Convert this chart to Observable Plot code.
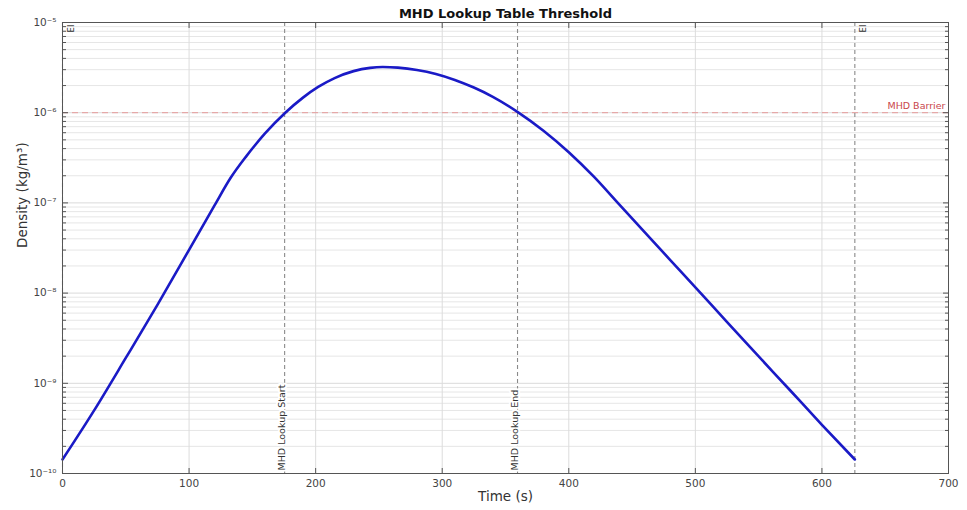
<!DOCTYPE html>
<html><head><meta charset="utf-8">
<script src="https://cdn.jsdelivr.net/npm/d3@7"></script>
<script src="https://cdn.jsdelivr.net/npm/@observablehq/plot@0.6"></script>
<style>body{margin:0;background:#fff;}</style>
</head><body><div id="chart"></div>
<script>
// Data (time in s, density in kg/m^3)
const time = [0, 25, 50, 75, 100, 120, 133, 145, 160, 176, 190, 202, 215, 230, 243, 253, 265, 280, 295, 310, 325, 340, 360, 380, 400, 420, 440, 480, 512, 544, 575, 600, 626];
const density = [1.43e-10, 5.01e-10, 1.91e-9, 7.41e-9, 3.02e-8, 9.33e-8, 1.91e-7, 3.26e-7, 5.89e-7, 1.00e-6, 1.47e-6, 1.93e-6, 2.42e-6, 2.89e-6, 3.14e-6, 3.21e-6, 3.16e-6, 2.98e-6, 2.69e-6, 2.31e-6, 1.90e-6, 1.50e-6, 1.01e-6, 6.32e-7, 3.65e-7, 1.94e-7, 9.55e-8, 2.34e-8, 7.59e-9, 2.45e-9, 8.32e-10, 3.47e-10, 1.43e-10];
const xTicks = [0, 100, 200, 300, 400, 500, 600, 700];
const yDecades = [1e-10, 1e-9, 1e-8, 1e-7, 1e-6, 1e-5];
const eventTimes = [0, 175.5, 359.5, 626];
const eventLabels = ["EI", "MHD Lookup Start", "MHD Lookup End", "EI"];
const barrier = [1e-6];
const barrierLabel = "MHD Barrier";
const title = "MHD Lookup Table Threshold";
const xLabel = "Time (s)";
const yLabel = "Density (kg/m³)";

const series = time.map((t, i) => ({t, d: density[i]}));
const yMinor = [];
yDecades.slice(0, -1).forEach(p => { for (let m = 2; m <= 9; m++) yMinor.push(p * m); });
const events = eventTimes.map((t, i) => ({t, label: eventLabels[i]}));
const topEvents = events.filter(e => e.label === "EI");
const bottomEvents = events.filter(e => e.label !== "EI");

const sup = {"-": "⁻", "0": "⁰", "1": "¹", "2": "²", "3": "³", "4": "⁴", "5": "⁵", "6": "⁶", "7": "⁷", "8": "⁸", "9": "⁹"};
const fmt = d => "10" + String(Math.round(Math.log10(d))).replace(/./g, c => sup[c]);

const chart = Plot.plot({
  width: 967, height: 510,
  marginLeft: 62, marginRight: 19, marginTop: 22, marginBottom: 37,
  style: {fontFamily: "DejaVu Sans", fontSize: "10px", color: "#444", background: "#fff"},
  x: {domain: [0, 700]},
  y: {type: "log", domain: [1e-10, 1e-5]},
  marks: [
    Plot.gridY(yMinor, {stroke: "#e6e6e6", strokeOpacity: 1}),
    Plot.gridY(yDecades, {stroke: "#dadada", strokeOpacity: 1}),
    Plot.gridX(xTicks, {stroke: "#dcdcdc", strokeOpacity: 1}),
    Plot.ruleY(barrier, {stroke: "#e59a9a", strokeDasharray: "6,4", strokeWidth: 1}),
    Plot.ruleX(eventTimes, {stroke: "#8a8a8a", strokeDasharray: "4,3", strokeWidth: 1.1}),
    Plot.line(series, {x: "t", y: "d", stroke: "#1a1ac6", strokeWidth: 2.6, curve: "monotone-x"}),
    Plot.frame({stroke: "#555"}),
    Plot.axisX(xTicks, {anchor: "bottom", tickSize: -5, tickFormat: () => "", label: null, stroke: "#555"}),
    Plot.axisX(xTicks, {anchor: "top", tickSize: -5, tickFormat: () => "", label: null, stroke: "#555"}),
    Plot.axisX(xTicks, {anchor: "bottom", tickSize: 0, tickPadding: 6, tickFormat: d => String(d), label: null, fontSize: 10.5, fill: "#444"}),
    Plot.axisY(yMinor, {anchor: "left", tickSize: -4, tickFormat: () => "", label: null, stroke: "#555"}),
    Plot.axisY(yMinor, {anchor: "right", tickSize: -4, tickFormat: () => "", label: null, stroke: "#555"}),
    Plot.axisY(yDecades, {anchor: "left", tickSize: -6, tickFormat: () => "", label: null, stroke: "#555"}),
    Plot.axisY(yDecades, {anchor: "right", tickSize: -6, tickFormat: () => "", label: null, stroke: "#555"}),
    Plot.axisY(yDecades, {anchor: "left", tickSize: 0, tickPadding: 6, tickFormat: fmt, label: null, fontSize: 10.5, fill: "#444"}),
    Plot.text(bottomEvents, {x: "t", frameAnchor: "bottom", text: "label", rotate: -90, textAnchor: "start", dy: -3, fontSize: 9.5, fill: "#333", stroke: "white", strokeWidth: 4}),
    Plot.text(topEvents, {x: "t", frameAnchor: "top", text: "label", rotate: -90, textAnchor: "end", dy: 2, dx: 5, fontSize: 8.5, fill: "#333"}),
    Plot.text(barrier, {y: d => d, frameAnchor: "right", text: () => barrierLabel, textAnchor: "end", dx: -3, dy: -7, fontSize: 9.5, fill: "#c9464b"}),
    Plot.text([title], {frameAnchor: "top", text: d => d, dy: -14, fontSize: 13, fontWeight: "bold", fill: "#111"}),
    Plot.text([xLabel], {frameAnchor: "bottom", text: d => d, dy: 27, fontSize: 13.5, fill: "#333"}),
    Plot.text([yLabel], {frameAnchor: "left", text: d => d, rotate: -90, dx: -40, fontSize: 13.5, fill: "#333"})
  ]
});
document.getElementById("chart").appendChild(chart);
</script>
</body></html>
